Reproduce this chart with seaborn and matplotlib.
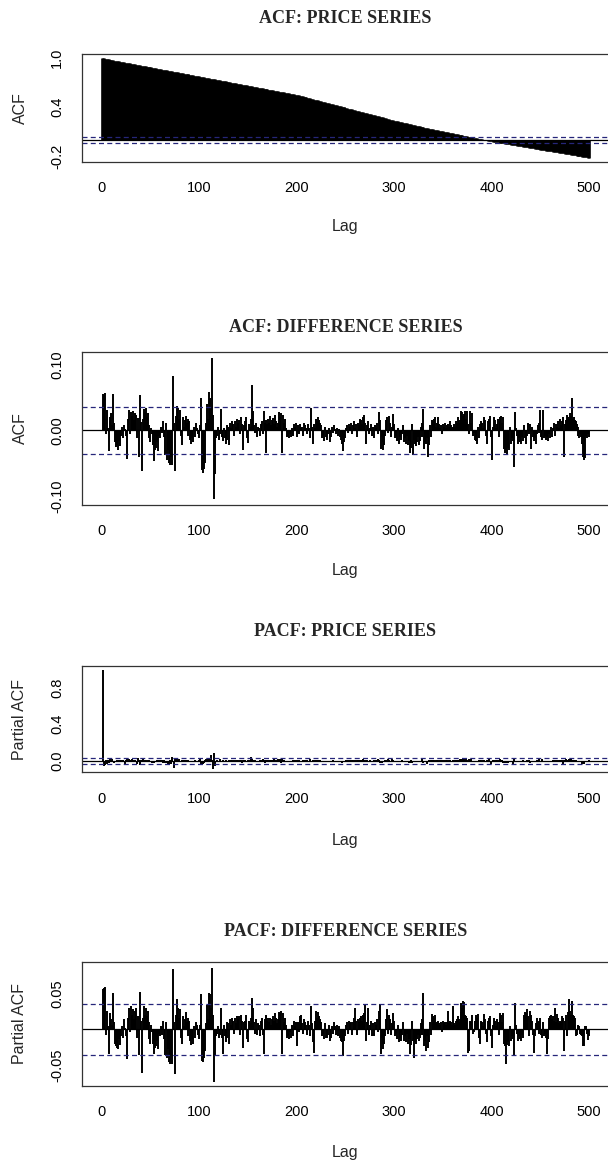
import numpy as np
import matplotlib
matplotlib.use("Agg")
import matplotlib.pyplot as plt
import seaborn as sns

# ---------------- data ----------------
titles = ["ACF: PRICE SERIES", "ACF: DIFFERENCE SERIES",
          "PACF: PRICE SERIES", "PACF: DIFFERENCE SERIES"]
ylabels = ["ACF", "ACF", "Partial ACF", "Partial ACF"]
xlabel = "Lag"
conf_limit = 0.0357

# ACF of the price series, lags 0..500
acf_price = [
 1.000, .998, .996, .993, .991, .989, .987, .984, .982, .980,
 .978, .975, .973, .971, .969, .966, .964, .962, .960, .957,
 .955, .953, .951, .948, .946, .944, .942, .940, .937, .935,
 .933, .931, .928, .926, .924, .922, .919, .917, .915, .913,
 .910, .908, .906, .904, .901, .899, .897, .895, .892, .890,
 .888, .886, .884, .881, .879, .877, .875, .872, .870, .868,
 .866, .863, .861, .859, .857, .854, .852, .850, .848, .845,
 .843, .841, .839, .836, .834, .832, .830, .827, .825, .823,
 .821, .818, .816, .814, .812, .810, .807, .805, .803, .801,
 .798, .796, .794, .792, .789, .787, .785, .783, .780, .778,
 .776, .774, .771, .769, .767, .765, .762, .760, .758, .756,
 .753, .751, .749, .747, .744, .742, .740, .738, .735, .733,
 .731, .729, .726, .724, .722, .720, .717, .715, .713, .711,
 .708, .706, .704, .702, .699, .697, .695, .693, .690, .688,
 .686, .684, .681, .679, .677, .675, .672, .670, .668, .666,
 .663, .661, .659, .657, .654, .652, .650, .648, .645, .643,
 .641, .639, .636, .634, .632, .630, .627, .625, .623, .621,
 .618, .616, .614, .612, .609, .607, .605, .603, .600, .598,
 .596, .594, .591, .589, .587, .585, .582, .580, .578, .576,
 .573, .571, .569, .567, .564, .562, .560, .558, .555, .553,
 .551, .548, .545, .542, .538, .535, .532, .529, .526, .523,
 .520, .516, .513, .510, .507, .504, .501, .498, .494, .491,
 .488, .485, .482, .479, .476, .472, .469, .466, .463, .460,
 .457, .454, .450, .447, .444, .441, .438, .435, .432, .428,
 .425, .422, .419, .416, .413, .410, .406, .403, .400, .397,
 .394, .391, .388, .384, .381, .378, .375, .372, .369, .366,
 .362, .359, .356, .353, .350, .347, .344, .340, .337, .334,
 .331, .328, .325, .322, .318, .315, .312, .309, .306, .303,
 .300, .296, .293, .290, .287, .284, .281, .278, .274, .271,
 .268, .265, .262, .259, .256, .252, .249, .246, .243, .240,
 .237, .234, .231, .229, .226, .223, .220, .217, .215, .212,
 .209, .206, .203, .201, .198, .195, .192, .189, .187, .184,
 .181, .178, .175, .173, .170, .167, .164, .161, .159, .156,
 .153, .151, .148, .146, .143, .141, .138, .136, .134, .131,
 .129, .126, .124, .121, .119, .116, .114, .112, .109, .107,
 .104, .102, .099, .097, .094, .092, .090, .087, .085, .082,
 .080, .077, .075, .072, .070, .068, .065, .063, .060, .058,
 .055, .053, .050, .048, .046, .043, .041, .038, .036, .033,
 .031, .028, .026, .024, .021, .019, .016, .014, .011, .009,
 .006, .004, .001, -.001, -.003, -.006, -.008, -.011, -.013, -.016,
 -.018, -.020, -.022, -.024, -.026, -.028, -.030, -.032, -.034, -.036,
 -.038, -.040, -.042, -.044, -.046, -.048, -.050, -.052, -.054, -.056,
 -.058, -.060, -.062, -.064, -.066, -.068, -.070, -.072, -.074, -.076,
 -.078, -.080, -.082, -.084, -.086, -.088, -.090, -.092, -.094, -.096,
 -.098, -.100, -.102, -.104, -.106, -.108, -.110, -.112, -.114, -.116,
 -.118, -.120, -.122, -.124, -.126, -.128, -.130, -.132, -.134, -.136,
 -.138, -.140, -.142, -.144, -.146, -.148, -.150, -.152, -.154, -.156,
 -.158, -.160, -.162, -.164, -.166, -.168, -.170, -.172, -.174, -.176,
 -.178, -.180, -.182, -.184, -.186, -.188, -.190, -.192, -.194, -.196,
 -.198, -.200, -.202, -.204, -.206, -.208, -.210, -.212, -.214, -.216,
 -.218]

# ACF of the difference series, lags 1..500
acf_diff = [
 .055, .054, .057, -.006, .031, .004, -.031, .021, .015, .026,
 .008, .056, .012, -.018, -.025, -.022, -.030, -.016, -.024, -.009,
 .006, -.012, .009, .002, -.008, -.044, .018, .031, -.006, .028,
 .022, .029, .016, .027, .024, -.011, .019, -.040, .054, .013,
 -.062, .018, .033, .028, .035, .021, .026, -.012, .009, -.018,
 .004, -.006, -.022, -.046, -.030, -.026, -.018, -.031, -.008, -.012,
 .006, -.004, .015, -.010, -.038, .012, -.045, -.030, -.050, -.052,
 -.041, -.053, .083, .012, -.062, .022, .038, .034, .018, .031,
 -.009, -.022, .020, .006, .016, .022, .011, .018, -.008, .014,
 -.015, -.020, -.012, -.018, .006, -.010, .011, .004, -.006, -.012,
 .008, .050, -.060, -.065, -.058, -.049, .011, .040, .018, .058,
 .049, .036, .111, .024, -.105, -.067, -.012, -.008, .006, -.014,
 -.006, .033, -.010, -.016, .004, -.012, -.020, .008, -.014, .006,
 -.022, .012, .004, .015, .010, -.008, .014, .006, .018, .012,
 .016, -.006, .020, .010, -.030, .008, .014, .021, -.012, -.019,
 .010, .006, .018, .069, .030, .008, -.004, .012, -.010, .006,
 .004, -.008, .010, .014, -.006, .030, .012, -.035, .016, .010,
 .018, .012, .022, .008, .016, .019, .010, .024, .014, .006,
 .012, .028, .020, .026, -.035, .024, .012, .018, .004, -.010,
 -.008, -.012, -.006, -.010, .004, -.008, .010, .006, .012, -.010,
 .008, -.006, .010, .004, .006, -.008, .012, .002, .008, .004,
 -.006, .010, .004, -.012, .035, .006, -.020, .010, .004, .018,
 .014, .020, .016, .012, .008, -.012, -.008, -.016, .006, -.010,
 -.014, -.006, .004, -.018, -.010, .006, -.004, .008, .002, -.006,
 .004, -.008, .002, -.010, -.014, -.020, -.031, -.018, -.006, -.012,
 .004, .008, -.004, .010, .006, .012, -.006, .008, .014, .004,
 .010, -.010, .012, .008, .018, .016, .010, .021, .024, .012,
 -.020, .008, .014, -.006, .004, .010, -.008, .006, -.012, .008,
 .004, .012, -.006, .028, .016, -.028, -.010, -.030, -.018, -.022,
 -.008, .016, .020, -.004, .022, .012, -.010, .006, .025, .010,
 -.012, -.008, -.016, .004, -.020, -.010, -.014, -.006, .008, -.018,
 -.012, -.020, -.008, -.022, -.016, -.035, -.026, .010, -.037, -.014,
 -.020, -.024, -.018, -.010, -.022, -.016, .006, -.010, .012, .033,
 -.028, -.018, -.020, -.012, -.040, -.022, .008, -.010, .016, .015,
 .018, .020, .006, .012, .020, .010, .004, .008, -.006, .010,
 .006, .012, .004, .008, .010, .006, .014, .008, .004, .005,
 .010, .006, .014, .012, .020, .016, .012, .026, .030, .028,
 .022, .025, .030, .018, .030, .010, -.006, .030, .012, .027,
 -.008, -.004, -.014, -.016, -.020, .006, -.012, .010, .015, .012,
 .004, .020, .016, -.008, -.020, .014, .018, .022, -.010, -.045,
 .006, .020, .016, .004, .010, .018, -.010, .014, .020, .022,
 .012, .020, -.028, -.035, -.030, -.038, -.026, -.030, .006, -.020,
 -.012, -.016, -.055, .028, .004, -.008, -.020, -.012, -.018, -.020,
 -.010, -.016, .008, -.012, -.020, -.008, .012, -.006, .010, -.028,
 .006, -.010, -.016, -.012, -.020, -.006, .008, .012, -.004, .031,
 -.010, -.014, .031, -.012, -.008, -.014, -.010, -.016, -.006, -.012,
 .006, -.010, .004, .012, -.008, .010, .006, .014, .004, .018,
 .008, .014, .020, -.040, .010, .016, .024, .020, .018, .026,
 .022, .050, .018, .020, .016, .014, .010, -.008, .006, -.012,
 -.006, -.010, -.020, -.040, -.045, -.042, -.008, -.012, -.006, -.010]

# PACF of the price series, lags 1..500
pacf_price = [
 .998, -.060, -.045, .010, -.030, .012, -.020, .018, .008, -.012,
 .020, .004, -.018, -.010, -.015, .006, -.012, .010, -.006, .008,
 -.010, .012, -.004, -.028, .014, .020, -.006, .018, .012, -.010,
 .016, .010, -.008, .012, -.014, -.030, .030, .008, -.040, .014,
 .012, .018, -.010, .012, .008, -.008, .006, -.012, .010, -.004,
 -.016, -.024, -.018, -.020, -.008, -.012, .006, .010, -.014, .012,
 -.008, .010, -.020, .006, -.026, -.010, -.022, -.028, -.030, .010,
 -.030, .047, -.010, -.078, .016, .030, .020, .010, .016, -.010,
 -.012, .012, .006, .010, .014, .008, .012, -.008, .010, -.010,
 -.012, -.008, -.014, .004, -.008, .008, .004, -.006, -.008, .006,
 .030, -.034, -.040, -.030, -.024, .008, .026, .010, .034, .030,
 .020, .060, .014, -.085, .083, -.050, -.010, .006, -.012, -.004,
 .020, -.008, -.012, .006, -.010, -.014, .006, -.010, .004, -.014,
 .008, .004, .010, .008, -.006, .010, .004, .012, .008, .010,
 -.004, .014, .008, -.020, .006, .010, .014, -.010, -.012, .008,
 .004, .012, .040, .020, .006, -.004, .008, -.008, .004, .004,
 -.006, .008, .010, -.004, .020, .008, -.024, .010, .008, .012,
 .008, .014, .006, .010, .012, .008, .016, .010, .004, .008,
 .018, .014, .016, -.024, .016, .008, .012, .004, -.008, -.006,
 -.008, -.004, -.008, .004, -.006, .008, .004, .008, -.008, .006,
 -.004, .008, .004, .004, -.006, .008, .002, .006, .004, -.004,
 .008, .004, -.008, .024, .004, -.014, .008, .004, .012, .010,
 .014, .010, .008, .006, -.008, -.006, -.010, .004, -.008, -.010,
 -.004, .004, -.012, -.008, .004, -.004, .006, .002, -.004, .004,
 -.006, .002, -.008, -.010, -.014, -.022, -.012, -.004, -.008, .004,
 .006, -.004, .008, .004, .008, -.004, .006, .010, .004, .008,
 -.008, .008, .006, .012, .010, .008, .014, .016, .008, -.014,
 .006, .010, -.004, .004, .008, -.006, .004, -.008, .006, .004,
 .008, -.004, .020, .010, -.020, -.008, -.020, -.012, -.016, -.006,
 .012, .014, -.004, .016, .008, -.008, .004, .018, .008, -.008,
 -.006, -.012, .004, -.014, -.008, -.010, -.004, .006, -.012, -.008,
 -.014, -.006, -.016, -.012, -.024, -.018, .008, -.026, -.010, -.014,
 -.016, -.012, -.008, -.016, -.012, .004, -.008, .008, .024, -.020,
 -.012, -.014, -.008, -.028, -.016, .006, -.008, .012, .010, .012,
 .014, .004, .008, .014, .008, .004, .006, -.004, .008, .004,
 .008, .004, .006, .008, .004, .010, .006, .004, .004, .008,
 .004, .010, .008, .014, .012, .008, .018, .020, .020, .016,
 .018, .020, .012, .020, .008, -.004, .020, .008, .018, -.006,
 -.004, -.010, -.012, -.014, .004, -.008, .008, .010, .008, .004,
 .014, .012, -.006, -.014, .010, .012, .016, -.008, -.030, .004,
 .014, .012, .004, .008, .012, -.008, .010, .014, .016, .008,
 .014, -.020, -.024, -.020, -.026, -.018, -.020, .004, -.014, -.008,
 -.012, -.038, .020, .004, -.006, -.014, -.008, -.012, -.014, -.008,
 -.012, .006, -.008, -.014, -.006, .008, -.004, .008, -.020, .004,
 -.008, -.012, -.008, -.014, -.004, .006, .008, -.004, .022, -.008,
 -.010, .022, -.008, -.006, -.010, -.008, -.012, -.004, -.008, .004,
 -.008, .004, .008, -.006, .008, .004, .010, .004, .012, .006,
 .010, .014, -.028, .008, .012, .016, .014, .012, .018, .016,
 .036, .012, .014, .012, .010, .008, -.006, .004, -.008, -.004,
 -.008, -.014, -.028, -.032, -.030, -.006, -.008, -.004, -.008, .006]

# PACF of the difference series, lags 1..500
pacf_diff = [
 .056, .058, .059, -.008, .026, .004, -.035, .018, .022, .014,
 .006, .051, .010, -.020, -.024, -.026, -.028, -.014, -.022, -.010,
 .004, -.012, .014, .002, -.010, -.041, .016, .030, -.004, .033,
 .020, .028, .014, .026, .030, -.012, .018, -.036, .052, .012,
 -.061, .016, .032, .020, .030, .018, .026, -.014, .010, -.020,
 .006, -.004, -.020, -.035, -.026, -.024, -.016, -.028, -.006, -.010,
 .004, -.008, .012, -.014, -.036, .010, -.040, -.028, -.046, -.049,
 -.036, -.048, .084, .010, -.063, .020, .042, .030, .016, .028,
 -.012, -.020, .018, .004, .014, .024, .010, .016, -.010, .012,
 -.016, -.022, -.014, -.020, .004, -.012, .010, .006, -.008, -.014,
 .006, .049, -.044, -.046, -.040, -.030, .008, .034, .014, .050,
 .049, .030, .086, .020, -.074, -.037, -.010, -.006, .004, -.012,
 -.008, .030, -.012, -.035, .006, -.010, -.018, .010, -.012, .008,
 -.020, .014, .006, .016, .012, -.006, .016, .008, .018, .014,
 .018, -.008, .020, .012, -.026, .010, .012, .020, -.014, -.018,
 .012, .008, .016, .044, .030, .010, -.006, .014, -.008, .008,
 .006, -.010, .012, .016, -.008, -.035, .014, .020, .018, .012,
 .016, .010, .015, .006, .014, .018, .012, .022, .016, .008,
 .014, .024, .022, .025, -.035, .022, .010, .016, .006, -.012,
 -.010, -.014, -.004, -.012, .006, -.010, .012, .004, .010, -.023,
 .010, -.004, .018, .020, .008, -.006, .014, .004, .010, .006,
 -.008, .012, .006, -.010, .032, .008, -.018, -.033, .012, .025,
 .016, .024, .018, .014, .010, -.010, -.006, -.014, .008, -.012,
 -.012, -.008, .006, -.016, -.012, .004, -.006, .010, .004, -.008,
 .006, -.010, .004, -.012, -.016, -.018, -.037, -.016, -.008, -.010,
 .006, .010, -.006, .012, .008, .010, -.008, .010, .016, .030,
 .012, -.008, .014, .010, .016, .018, .012, .020, .022, .034,
 -.016, .010, .030, -.008, .006, .012, -.010, .008, -.010, .010,
 .006, .014, -.004, .026, .035, -.035, -.012, -.028, -.020, -.020,
 -.010, .014, .028, -.006, .020, .014, -.008, .008, .022, .012,
 -.010, -.006, -.014, .006, -.018, -.012, -.016, -.008, .010, -.016,
 -.010, -.018, -.006, -.020, -.014, -.035, -.022, .012, -.016, -.040,
 -.018, -.020, -.014, -.008, -.016, -.012, .008, -.008, .014, .050,
 -.024, -.016, -.030, -.010, -.026, -.018, .010, -.008, .021, .018,
 .016, .020, .008, .010, .012, .008, .006, .010, -.004, .012,
 .008, .010, .006, .010, .026, .008, .012, .010, .006, .033,
 .008, .006, .012, .014, .018, .014, .010, .024, .037, .030,
 .040, .038, .020, .018, .016, -.033, -.030, .012, .010, .020,
 -.006, -.004, .012, .020, .016, .021, -.012, -.020, .012, .010,
 .004, .021, .014, -.006, -.018, .012, .016, .018, -.010, -.026,
 .006, .015, .012, .004, .014, .010, -.008, .012, .023, .020,
 .010, .023, -.020, -.024, -.048, -.022, -.018, -.024, .004, -.016,
 -.010, -.014, -.037, .037, .006, -.006, -.016, -.010, -.014, -.016,
 -.008, -.012, .020, .024, .022, .028, .018, -.010, .026, .020,
 .012, -.008, -.033, -.010, .008, .015, .010, .012, -.006, .015,
 -.008, -.012, .010, -.010, -.006, -.012, -.035, -.014, .016, .018,
 .020, .014, .018, .012, .030, .010, .021, .016, .008, .012,
 .010, .018, .016, -.030, .012, .020, -.010, .024, .042, .026,
 .020, .040, .020, .018, .016, -.010, -.008, .004, .006, .005,
 -.006, -.008, -.010, -.023, -.023, .005, .004, -.006, -.015, -.010]

series = [acf_price, acf_diff, pacf_price, pacf_diff]
first_lag = [0, 1, 1, 1]

xticks = [0, 100, 200, 300, 400, 500]
yticks = [
    [-0.2, 0.0, 0.2, 0.4, 0.6, 0.8, 1.0],
    [-0.10, -0.05, 0.00, 0.05, 0.10],
    [0.0, 0.2, 0.4, 0.6, 0.8, 1.0],
    [-0.05, 0.00, 0.05],
]
yticklabels = [
    ["-0.2", "", "", "0.4", "", "", "1.0"],
    ["-0.10", "", "0.00", "", "0.10"],
    ["0.0", "", "0.4", "", "0.8", ""],
    ["-0.05", "", "0.05"],
]
ylims = [(-0.267, 1.051), (-0.1136, 0.1196), (-0.124, 1.040), (-0.079, 0.094)]

# ---------------- layout (pixels of a 608 x 1162 canvas) ----------------
W, H = 608, 1162
box_left, box_right = 82.2, 608.7
boxes = [(54, 161.7), (352, 505), (665.7, 772.3), (962, 1085.7)]
title_y = [18.3, 327, 631.7, 932]
lag_y = [227, 571, 840, 1153]
bar_width = [1.9, 1.4, 1.4, 1.4]

sns.set_theme(style="white")
plt.rcParams["font.family"] = ["Liberation Sans", "DejaVu Sans"]

fig = plt.figure(figsize=(W / 100, H / 100), dpi=100)
edge = "#333333"
band_col = "#26267a"

for i in range(4):
    top, bot = boxes[i]
    ax = fig.add_axes([box_left / W, 1 - bot / H,
                       (box_right - box_left) / W, (bot - top) / H])
    vals = np.asarray(series[i], dtype=float)
    lags = np.arange(len(vals)) + first_lag[i]
    ax.vlines(lags, 0, vals, color="black", linewidth=bar_width[i])
    ax.axhline(0, color="black", linewidth=0.9)
    for s in (conf_limit, -conf_limit):
        ax.axhline(s, color=band_col, linewidth=0.9, linestyle=(0, (4, 2.6)))
    ax.set_xlim(-20, 520)
    ax.set_ylim(*ylims[i])
    ax.set_xticks(xticks)
    ax.set_xticklabels([str(t) for t in xticks])
    ax.set_yticks(yticks[i])
    ax.set_yticklabels(yticklabels[i], rotation=90, va="center")
    ax.tick_params(axis="both", direction="out", length=6, width=0.8,
                   color=edge, labelsize=10.5, labelcolor="black")
    ax.tick_params(axis="x", pad=8)
    ax.tick_params(axis="y", pad=7)
    for sp in ax.spines.values():
        sp.set_visible(True)
        sp.set_color(edge)
        sp.set_linewidth(0.9)
    ax.grid(False)
    ax.set_facecolor("white")

    cy = (top + bot) / 2
    fig.text(20 / W, 1 - cy / H, ylabels[i], rotation=90, ha="center",
             va="center", fontsize=11.5)
    cx = (box_left + box_right) / 2
    fig.text(cx / W, 1 - lag_y[i] / H, xlabel, ha="center", va="center",
             fontsize=11.5)
    fig.text(cx / W, 1 - title_y[i] / H, titles[i], ha="center", va="center",
             fontsize=13, fontweight="bold",
             family=["Liberation Serif", "DejaVu Serif"])

fig.savefig("out.png", dpi=100, facecolor="white")
